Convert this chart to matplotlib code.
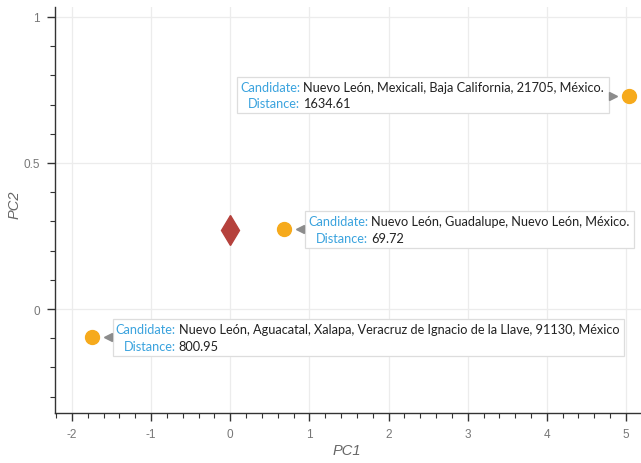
import numpy as np
import matplotlib.pyplot as plt
from matplotlib.transforms import offset_copy, Bbox
from matplotlib.patches import Rectangle
from matplotlib.ticker import MultipleLocator

# Dữ liệu
query_pc1 = [0.0]
query_pc2 = [0.27]
cand_pc1 = [-1.75, 0.68, 5.04]
cand_pc2 = [-0.096, 0.274, 0.729]
candidates = [
    "Nuevo León, Aguacatal, Xalapa, Veracruz de Ignacio de la Llave, 91130, México",
    "Nuevo León, Guadalupe, Nuevo León, México.",
    "Nuevo León, Mexicali, Baja California, 21705, México.",
]
distances = ["800.95", "69.72", "1634.61"]
sides = ["right", "right", "left"]

plt.rcParams['font.family'] = ['Liberation Sans', 'DejaVu Sans']
plt.rcParams['axes.unicode_minus'] = False

fig = plt.figure(figsize=(6.41, 4.64), dpi=100)
ax = fig.add_axes([55/641, 1 - 414/464, 1 - 55/641, (414 - 8)/464])
ax.set_xlim(-2.215, 5.19)
ax.set_ylim(-0.356, 1.034)

for s in ['top', 'right']:
    ax.spines[s].set_visible(False)
for s in ['left', 'bottom']:
    ax.spines[s].set_color('#333333')
    ax.spines[s].set_linewidth(1.0)

ax.xaxis.set_major_locator(MultipleLocator(1))
ax.xaxis.set_minor_locator(MultipleLocator(0.2))
ax.yaxis.set_major_locator(MultipleLocator(0.5))
ax.yaxis.set_minor_locator(MultipleLocator(0.1))
ax.set_yticks([0, 0.5, 1])
ax.set_yticklabels(['0', '0.5', '1'])
ax.tick_params(which='major', length=6, width=1, color='#333333',
               labelsize=8.5, labelcolor='#777777', pad=5)
ax.tick_params(which='minor', length=3.5, width=0.8, color='#333333')
ax.grid(True, which='major', color='#ececec', linewidth=0.9)
ax.set_axisbelow(True)

ax.set_xlabel('PC1', fontsize=10.5, style='italic', color='#666666')
ax.set_ylabel('PC2', fontsize=10.5, style='italic', color='#666666')
ax.xaxis.set_label_coords((347 - 55) / 586, (414 - 444) / 406)
ax.yaxis.set_label_coords((22 - 55) / 586, (414 - 205) / 406)

ax.plot(query_pc1, query_pc2, marker='d', markersize=15, color='#b5413c',
        linestyle='none', zorder=3)
ax.scatter(cand_pc1, cand_pc2, s=100, color='#f6aa1c', zorder=3)

# Tooltip
tip_font = dict(family='Lato', fontsize=9.2)
label_col = '#3ba3de'


def note(txt, x, y, dx, dy, ha, color):
    return ax.annotate(txt, (x, y), xytext=(dx, dy), textcoords='offset pixels',
                       ha=ha, va='center', color=color, zorder=6,
                       annotation_clip=False, **tip_font)


tips = []
for x, y, cand, dist, side in zip(cand_pc1, cand_pc2, candidates, distances, sides):
    group = []
    if side == 'right':
        ax.plot([x], [y], marker='<', markersize=6, color='#8c8c8c',
                transform=offset_copy(ax.transData, fig, x=16, y=0, units='dots'),
                zorder=5, clip_on=False)
        col = 84
        group.append(note('Candidate:', x, y, col, 8, 'right', label_col))
        group.append(note('Distance:', x, y, col, -9, 'right', label_col))
        group.append(note(cand, x, y, col + 3, 8, 'left', '#222222'))
        group.append(note(dist, x, y, col + 3, -9, 'left', '#222222'))
    else:
        ax.plot([x], [y], marker='>', markersize=6, color='#8c8c8c',
                transform=offset_copy(ax.transData, fig, x=-16, y=0, units='dots'),
                zorder=5, clip_on=False)
        cand_t = note(cand, x, y, -25, 9, 'right', '#222222')
        group.append(cand_t)
        fig.canvas.draw()
        w = cand_t.get_window_extent().width
        col = -25 - w - 3
        group.append(note('Candidate:', x, y, col, 9, 'right', label_col))
        group.append(note('Distance:', x, y, col, -7, 'right', label_col))
        group.append(note(dist, x, y, col + 3, -7, 'left', '#222222'))
    tips.append(group)

fig.canvas.draw()
r = fig.canvas.get_renderer()
inv = ax.transAxes.inverted()
for group in tips:
    bb = Bbox.union([t.get_window_extent(r) for t in group])
    x0, y0 = bb.x0 - 3, bb.y0 - 4
    x1, y1 = bb.x1 + 5, bb.y1 + 4
    (ax0, ay0), (ax1, ay1) = inv.transform([(x0, y0), (x1, y1)])
    ax.add_patch(Rectangle((ax0, ay0), ax1 - ax0, ay1 - ay0, transform=ax.transAxes,
                           facecolor='white', edgecolor='#dddddd', linewidth=0.9,
                           zorder=4, clip_on=False))

fig.savefig('out.png', dpi=100)
